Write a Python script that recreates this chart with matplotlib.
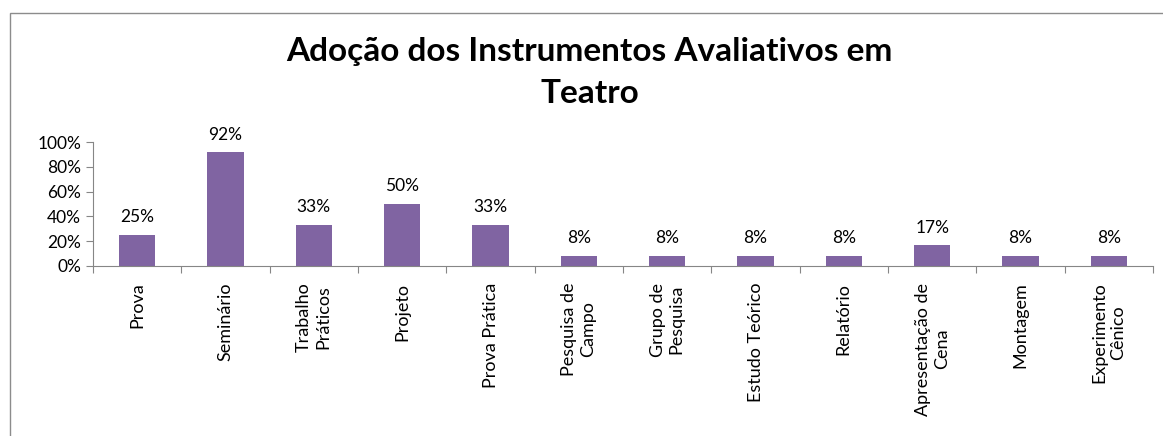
import matplotlib
matplotlib.use("Agg")
import matplotlib.pyplot as plt
import numpy as np
from matplotlib.patches import Rectangle
from matplotlib.ticker import FuncFormatter

categories = [
    "Prova", "Seminário", "Trabalho\nPráticos", "Projeto", "Prova Prática",
    "Pesquisa de\nCampo", "Grupo de\nPesquisa", "Estudo Teórico", "Relatório",
    "Apresentação de\nCena", "Montagem", "Experimento\nCênico",
]
values = [25.0, 91.7, 33.3, 50.0, 33.3, 8.3, 8.3, 8.3, 8.3, 16.7, 8.3, 8.3]
title = "Adoção dos Instrumentos Avaliativos em\nTeatro"

plt.rcParams["font.family"] = ["Lato", "DejaVu Sans"]

fig = plt.figure(figsize=(11.63, 4.36), dpi=100)
ax = fig.add_axes([0.080, 0.390, 0.9114, 0.284])

# chart border (partially cropped in the original)
fig.patches.append(Rectangle((0.0086, -0.1), 1.2, 1.07, transform=fig.transFigure,
                             fill=False, edgecolor="#8c8c8c", linewidth=1.0))

x = np.arange(len(categories))
ax.bar(x, np.array(values) / 100, width=0.41, color="#8064A2")
for xi, v in zip(x, values):
    ax.annotate(f"{v:.0f}%", (xi, v / 100), xytext=(0, 7), textcoords="offset points",
                ha="center", va="bottom", fontsize=12.5)

ax.set_xlim(-0.5, len(categories) - 0.5)
ax.set_ylim(0, 1)
ax.set_yticks(np.arange(0, 1.01, 0.2))
ax.yaxis.set_major_formatter(FuncFormatter(lambda v, _: f"{v * 100:.0f}%"))
ax.set_xticks(np.arange(-0.5, len(categories), 1.0))
ax.set_xticklabels([])
ax.set_xticks(x, minor=True)
ax.set_xticklabels(categories, minor=True, rotation=90, ha="center", va="top",
                   multialignment="center", fontsize=13, linespacing=1.25)
ax.tick_params(axis="x", which="minor", length=0, pad=12)
ax.tick_params(axis="x", which="major", length=5, color="#868686")
ax.tick_params(axis="y", length=5, color="#868686", labelsize=12.5)
for side in ("top", "right"):
    ax.spines[side].set_visible(False)
for side in ("left", "bottom"):
    ax.spines[side].set_color("#868686")

fig.text(0.507, 0.833, title, ha="center", va="center", fontsize=24,
         fontweight="bold", linespacing=1.55)

fig.savefig("out.png", dpi=100)
